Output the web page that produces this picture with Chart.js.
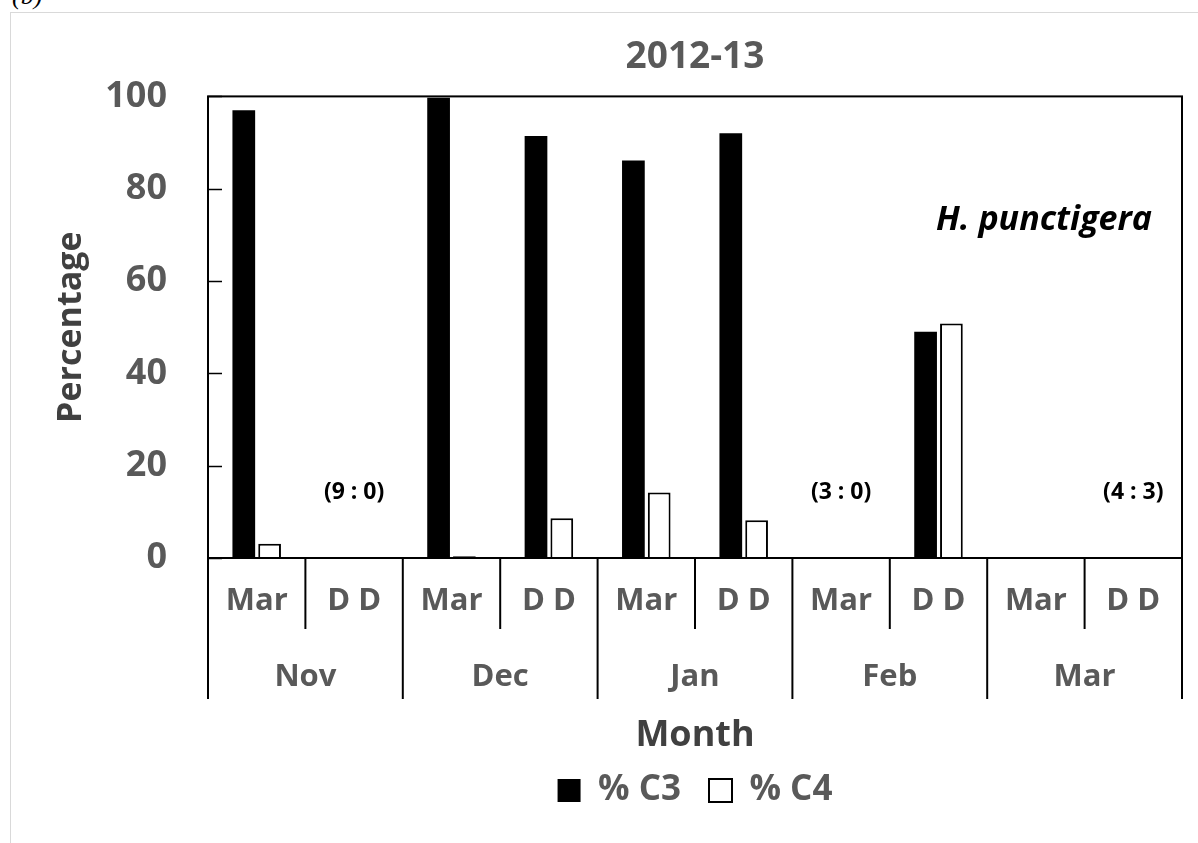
<!DOCTYPE html>
<html><head><meta charset="utf-8">
<script src="https://cdn.jsdelivr.net/npm/chart.js@4.4.1/dist/chart.umd.min.js"></script>
<style>
html,body{margin:0;padding:0;background:#fff;}
#wrap{position:relative;width:1198px;height:843px;overflow:hidden;background:#fff;}
#frame{position:absolute;left:10px;top:12px;width:1400px;height:1000px;border-left:1px solid #d9d9d9;border-top:1px solid #d9d9d9;}
#lbl{position:absolute;left:12px;top:-17px;font:italic 26px "Liberation Serif",serif;line-height:26px;color:#000;}
canvas{position:absolute;left:0;top:0;}
</style></head>
<body><div id="wrap"><div id="frame"></div><div id="lbl">(b)</div><canvas id="c" width="1198" height="843"></canvas></div>
<script>
// ---- data ----
const treatments = ['Mar','D D','Mar','D D','Mar','D D','Mar','D D','Mar','D D'];
const months = ['Nov','Dec','Jan','Feb','Mar'];
const pctC3 = [97.0, null, 99.7, 91.4, 86.1, 92.0, null, 49.0, null, null];
const pctC4 = [3.1, null, 0.4, 8.6, 14.2, 8.2, null, 50.8, null, null];
const sampleNotes = ['', '(9 : 0)', '', '', '', '', '(3 : 0)', '', '', '(4 : 3)'];
const yTicks = [0, 20, 40, 60, 80, 100];
const chartTitle = '2012-13';
const speciesLabel = 'H. punctigera';

const FONT = '"Open Sans", "DejaVu Sans", sans-serif';

const deco = {
  id: 'deco',
  afterDraw(chart) {
    const {ctx, chartArea: a, scales} = chart;
    const x = scales.x, y = scales.y, x2 = scales.x2;
    const n = treatments.length;
    const w = (a.right - a.left) / n;
    ctx.save();
    ctx.strokeStyle = '#000';
    ctx.lineCap = 'butt';
    // inner y ticks
    ctx.lineWidth = 1.5;
    yTicks.forEach(v => {
      const py = Math.round(y.getPixelForValue(v)) + 0.5;
      ctx.beginPath(); ctx.moveTo(a.left, py); ctx.lineTo(a.left + 14, py); ctx.stroke();
    });
    // plot border
    ctx.lineWidth = 2;
    ctx.strokeRect(a.left, a.top, a.right - a.left, a.bottom - a.top);
    // category separators
    for (let i = 0; i <= n; i++) {
      const px = (i < n ? x.getPixelForValue(i) - w / 2 : x.getPixelForValue(n - 1) + w / 2);
      const end = (i % 2 === 0) ? x2.top + 70 : x.bottom;
      ctx.beginPath(); ctx.moveTo(px, a.bottom); ctx.lineTo(px, end); ctx.stroke();
    }
    // sample notes
    ctx.fillStyle = '#000';
    ctx.font = 'bold 23px ' + FONT;
    ctx.textAlign = 'center';
    ctx.textBaseline = 'middle';
    sampleNotes.forEach((t, i) => {
      if (t) ctx.fillText(t, x.getPixelForValue(i), y.getPixelForValue(14.3));
    });
    // species label
    ctx.font = 'italic bold 34px ' + FONT;
    ctx.textAlign = 'right';
    ctx.fillText(speciesLabel, a.right - 30, y.getPixelForValue(73.2));
    ctx.restore();
  }
};

new Chart(document.getElementById('c'), {
  type: 'bar',
  data: {
    labels: treatments,
    datasets: [
      {label: '% C3', data: pctC3, backgroundColor: '#000', borderColor: '#000', borderWidth: 0,
       categoryPercentage: 0.53, barPercentage: 0.88, xAxisID: 'x'},
      {label: '% C4', data: pctC4, backgroundColor: '#fff', borderColor: '#000', borderWidth: 2,
       categoryPercentage: 0.53, barPercentage: 0.88, xAxisID: 'x'}
    ]
  },
  options: {
    responsive: false,
    animation: false,
    events: [],
    layout: {padding: {left: 0, right: 16, top: 0, bottom: 25}},
    plugins: {
      tooltip: {enabled: false},
      title: {
        display: true, text: chartTitle, color: '#595959', fullSize: false,
        font: {family: FONT, size: 37, weight: 'bold'},
        padding: {top: 35, bottom: 17}
      },
      legend: {
        position: 'bottom', fullSize: false, maxHeight: 99,
        labels: {
          color: '#595959', boxWidth: 23, boxHeight: 23, padding: 28,
          font: {family: FONT, size: 35, weight: 'bold'}
        }
      }
    },
    scales: {
      y: {
        min: 0, max: 100,
        afterFit(s) { s.width = 208; },
        grid: {display: false, drawTicks: false},
        border: {display: false},
        ticks: {stepSize: 20, padding: 41, color: '#595959',
                font: {family: FONT, size: 36, weight: 'bold'}},
        title: {display: true, text: 'Percentage', color: '#404040',
                font: {family: FONT, size: 34, weight: 'bold'}, padding: {top: 51, bottom: 0}}
      },
      x: {
        weight: 0,
        afterFit(s) { s.height = 71; },
        grid: {display: false, drawTicks: false},
        border: {display: false},
        ticks: {autoSkip: false, maxRotation: 0, minRotation: 0, padding: 25, color: '#595959',
                font: {family: FONT, size: 31, weight: 'bold'}}
      },
      x2: {
        type: 'category', position: 'bottom', weight: 1, labels: months, offset: true,
        afterFit(s) { s.height = 116; },
        grid: {display: false, drawTicks: false},
        border: {display: false},
        ticks: {autoSkip: false, maxRotation: 0, minRotation: 0, padding: 30, color: '#595959',
                font: {family: FONT, size: 31, weight: 'bold'}},
        title: {display: true, text: 'Month', color: '#404040',
                font: {family: FONT, size: 36, weight: 'bold'}, padding: {top: 0, bottom: -12}}
      }
    }
  },
  plugins: [deco]
});
</script>
</body></html>
